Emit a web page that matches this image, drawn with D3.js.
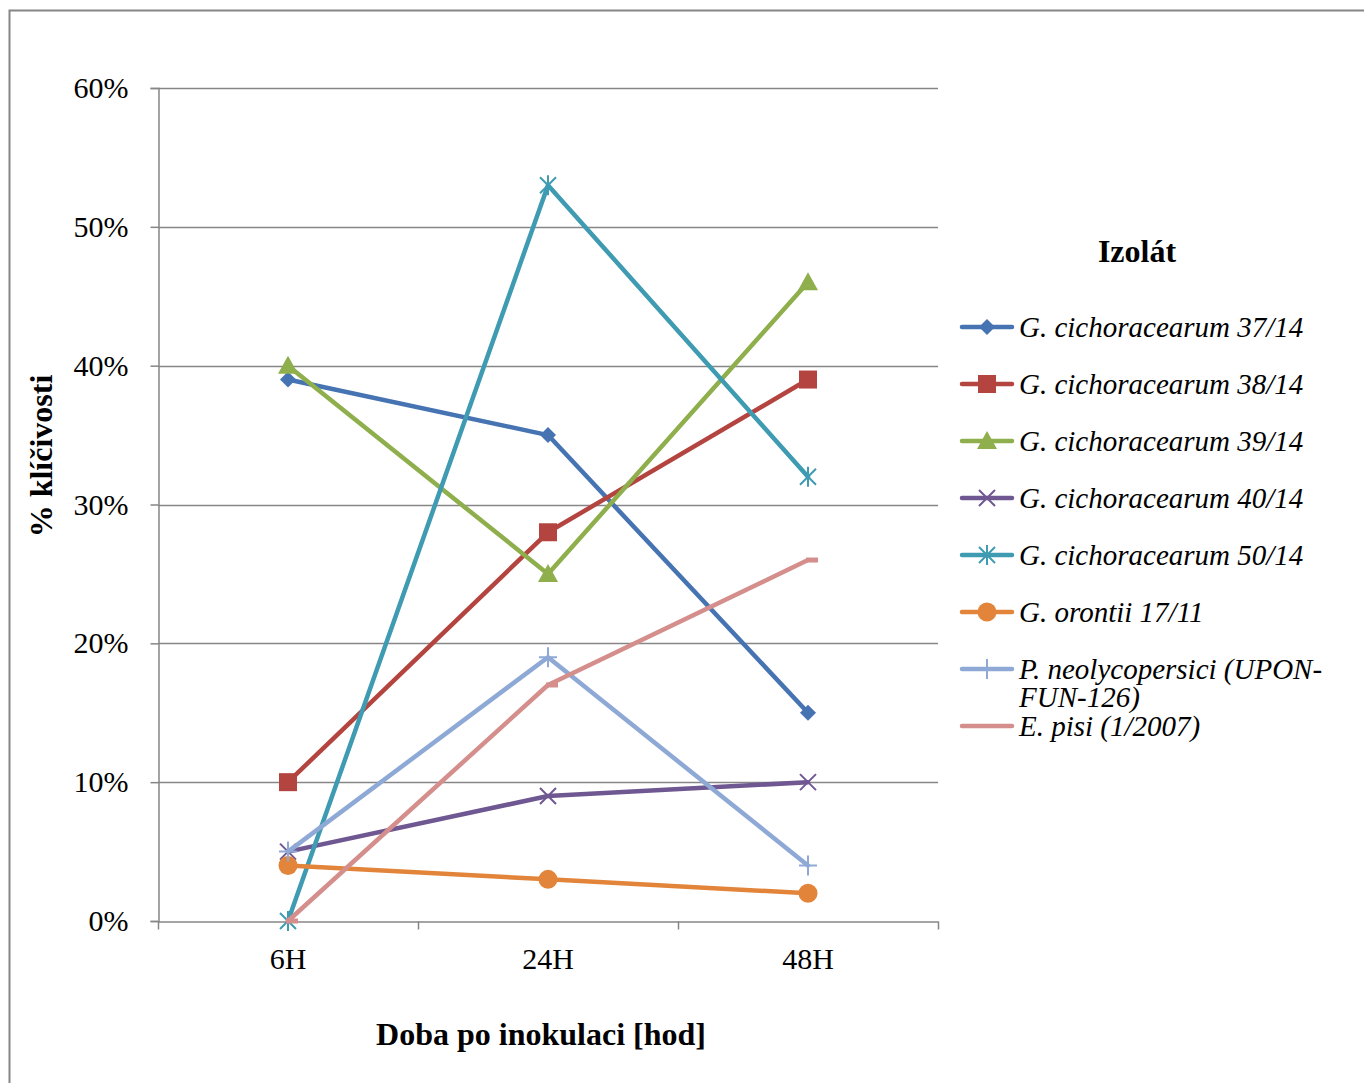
<!DOCTYPE html>
<html>
<head>
<meta charset="utf-8">
<script src="https://cdn.jsdelivr.net/npm/d3@7"></script>
<style>
  html, body { margin: 0; padding: 0; background: #fff; }
  svg { display: block; }
  text { font-family: "Liberation Serif", "Times New Roman", serif; fill: #000; }
</style>
</head>
<body>
<svg id="chart" width="1364" height="1083"></svg>
<script>
// Time points after inoculation
const categories = ["6H", "24H", "48H"];
// Y tick values (fraction)
const yTicks = [0, 0.1, 0.2, 0.3, 0.4, 0.5, 0.6];

// Germination rate per isolate
const isolateNames = [
  "G. cichoracearum 37/14",
  "G. cichoracearum 38/14",
  "G. cichoracearum 39/14",
  "G. cichoracearum 40/14",
  "G. cichoracearum 50/14",
  "G. orontii 17/11",
  "P. neolycopersici (UPON-FUN-126)",
  "E. pisi (1/2007)"
];
const gc37 = [0.39, 0.35, 0.15];
const gc38 = [0.10, 0.28, 0.39];
const gc39 = [0.40, 0.25, 0.46];
const gc40 = [0.05, 0.09, 0.10];
const gc50 = [0.00, 0.53, 0.32];
const go17 = [0.04, 0.03, 0.02];
const pneo = [0.05, 0.19, 0.04];
const episi = [0.00, 0.17, 0.26];

const seriesValues = [gc37, gc38, gc39, gc40, gc50, go17, pneo, episi];
const colors = ["#4673B2", "#B4443F", "#8EAF4C", "#6F5792", "#3E9BB2", "#E2853A", "#8EA9D6", "#D48E8C"];
const markers = ["diamond", "square", "triangle", "x", "star", "circle", "plus", "dash"];

const svg = d3.select("#chart");

// outer frame
svg.append("rect")
  .attr("x", 9.5).attr("y", 10.5)
  .attr("width", 1400).attr("height", 1100)
  .attr("fill", "none").attr("stroke", "#868686").attr("stroke-width", 2);

const plot = { left: 158, right: 938, top: 88, bottom: 921 };

const x = d3.scaleBand()
  .domain(categories)
  .range([plot.left, plot.right])
  .paddingInner(0).paddingOuter(0);
const xc = d => x(d) + x.bandwidth() / 2;

const y = d3.scaleLinear().domain([0, 0.6]).range([plot.bottom, plot.top]);

// gridlines
svg.append("g")
  .selectAll("line")
  .data(yTicks.filter(t => t > 0))
  .join("line")
  .attr("x1", plot.left).attr("x2", plot.right)
  .attr("y1", d => Math.round(y(d)) + 0.5).attr("y2", d => Math.round(y(d)) + 0.5)
  .attr("stroke", "#868686").attr("stroke-width", 1.5);

// y axis
const yAxis = d3.axisLeft(y)
  .tickValues(yTicks)
  .tickFormat(d3.format(".0%"))
  .tickSize(8)
  .tickPadding(22);
const gy = svg.append("g")
  .attr("transform", `translate(${plot.left + 0.5},0)`)
  .call(yAxis);
gy.select(".domain").attr("stroke", "#868686").attr("stroke-width", 1.5);
gy.selectAll(".tick line").attr("stroke", "#868686").attr("stroke-width", 1.5);
gy.selectAll(".tick text")
  .attr("font-size", 30)
  .attr("font-family", "Liberation Serif, serif")
  .attr("fill", "#000");

// x axis
const xAxis = d3.axisBottom(x).tickSize(0).tickPadding(26);
const gx = svg.append("g")
  .attr("transform", `translate(0,${plot.bottom + 0.5})`)
  .call(xAxis);
gx.select(".domain").attr("stroke", "#868686").attr("stroke-width", 1.5);
gx.selectAll(".tick text")
  .attr("font-size", 30)
  .attr("font-family", "Liberation Serif, serif")
  .attr("fill", "#000");
// category boundary tick marks
const boundaries = categories.map(c => x(c)).concat([plot.right]);
gx.selectAll(".bound")
  .data(boundaries)
  .join("line")
  .attr("class", "bound")
  .attr("x1", d => Math.round(d) + 0.5).attr("x2", d => Math.round(d) + 0.5)
  .attr("y1", 0).attr("y2", 8)
  .attr("stroke", "#868686").attr("stroke-width", 1.5);

// axis titles
svg.append("text")
  .attr("x", 541).attr("y", 1045)
  .attr("text-anchor", "middle")
  .attr("font-size", 32).attr("font-weight", "bold")
  .text("Doba po inokulaci [hod]");

svg.append("text")
  .attr("transform", "translate(52,456) rotate(-90)")
  .attr("text-anchor", "middle")
  .attr("font-size", 32).attr("font-weight", "bold")
  .text("% klíčivosti");

// marker drawing
function drawMarker(g, type, color) {
  switch (type) {
    case "diamond":
      g.append("path").attr("d", "M0,-8L8,0L0,8L-8,0Z").attr("fill", color);
      break;
    case "square":
      g.append("rect").attr("x", -9).attr("y", -9).attr("width", 18).attr("height", 18).attr("fill", color);
      break;
    case "triangle":
      g.append("path").attr("d", "M0,-10L10,8L-10,8Z").attr("fill", color);
      break;
    case "x":
      g.append("path").attr("d", "M-8,-8L8,8M-8,8L8,-8").attr("stroke", color).attr("stroke-width", 2).attr("fill", "none");
      break;
    case "star":
      g.append("path").attr("d", "M-8,-8L8,8M-8,8L8,-8M0,-10L0,10").attr("stroke", color).attr("stroke-width", 2).attr("fill", "none");
      break;
    case "circle":
      g.append("circle").attr("r", 9.5).attr("fill", color);
      break;
    case "plus":
      g.append("path").attr("d", "M-9,0L9,0M0,-10L0,10").attr("stroke", color).attr("stroke-width", 2).attr("fill", "none");
      break;
    case "dash":
      g.append("path").attr("d", "M-2,0L10,0").attr("stroke", color).attr("stroke-width", 5).attr("fill", "none");
      break;
  }
}

// series lines
const line = d3.line().x((d, i) => xc(categories[i])).y(d => y(d));
const seriesG = svg.append("g");
seriesValues.forEach((vals, si) => {
  const g = seriesG.append("g");
  g.append("path")
    .attr("d", line(vals))
    .attr("fill", "none")
    .attr("stroke", colors[si])
    .attr("stroke-width", 4.5)
    .attr("stroke-linejoin", "round")
    .attr("stroke-linecap", "round");
  vals.forEach((v, i) => {
    const mg = g.append("g").attr("transform", `translate(${xc(categories[i])},${y(v)})`);
    drawMarker(mg, markers[si], colors[si]);
  });
});

// legend
svg.append("text")
  .attr("x", 1137).attr("y", 262)
  .attr("text-anchor", "middle")
  .attr("font-size", 32).attr("font-weight", "bold")
  .text("Izolát");

const legendRows = [327, 384, 441, 498, 555, 612, 669, 726];
const legendLines = [
  ["G. cichoracearum 37/14"],
  ["G. cichoracearum 38/14"],
  ["G. cichoracearum 39/14"],
  ["G. cichoracearum 40/14"],
  ["G. cichoracearum 50/14"],
  ["G. orontii 17/11"],
  ["P. neolycopersici (UPON-", "FUN-126)"],
  ["E. pisi (1/2007)"]
];
const lg = svg.append("g");
isolateNames.forEach((name, i) => {
  const ry = legendRows[i];
  const row = lg.append("g");
  row.append("line")
    .attr("x1", 962).attr("x2", 1012)
    .attr("y1", ry).attr("y2", ry)
    .attr("stroke", colors[i]).attr("stroke-width", 4.5)
    .attr("stroke-linecap", "round");
  if (markers[i] !== "dash") {
    drawMarker(row.append("g").attr("transform", `translate(987,${ry})`), markers[i], colors[i]);
  }
  const t = row.append("text")
    .attr("x", 1019).attr("y", ry + 10)
    .attr("font-size", 29).attr("font-style", "italic");
  legendLines[i].forEach((s, k) => {
    t.append("tspan").attr("x", 1019).attr("dy", k === 0 ? 0 : 28).text(s);
  });
});
</script>
</body>
</html>
